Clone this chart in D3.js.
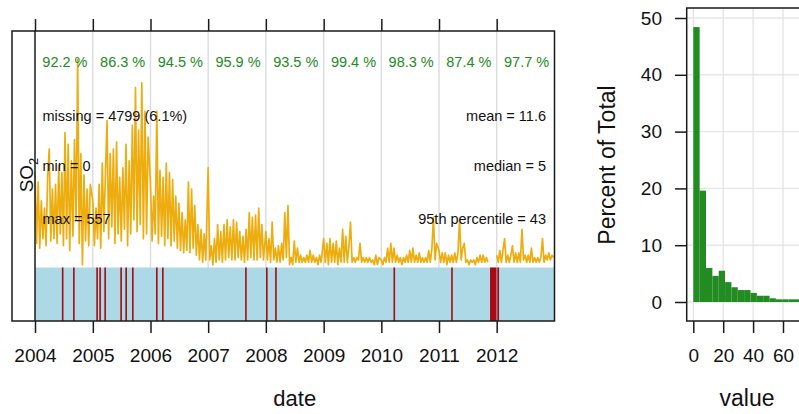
<!DOCTYPE html>
<html>
<head>
<meta charset="utf-8">
<script src="https://cdn.jsdelivr.net/npm/d3@7"></script>
<style>
  body { margin: 0; background: #fff; }
  svg { font-family: "Liberation Sans", Arial, sans-serif; display: block; }
</style>
</head>
<body>
<svg id="chart" width="799" height="414"></svg>
<script>
// daily SO2 means, sampled every 10 days from 1 Jan of each year
const so2_2004 = [40, 10, 36, 8, 28, 12, 25, 9, 38, 50, 11, 33, 12, 35, 10, 43, 14, 40, 9, 57, 12, 52, 7, 45, 13, 54, 20, 88, 10, 48, 1, 39, 11, 33, 9, 35];
const so2_2005 = [28, 9, 25, 12, 35, 8, 44, 15, 40, 62, 12, 48, 17, 50, 10, 53, 14, 38, 11, 42, 16, 52, 9, 45, 14, 60, 20, 76, 15, 58, 18, 78, 12, 66, 14, 55];
const so2_2006 = [35, 11, 30, 14, 66, 10, 41, 13, 38, 9, 44, 12, 40, 9, 37, 11, 30, 8, 27, 7, 23, 6, 20, 7, 36, 6, 33, 8, 26, 5, 18, 3, 16, 2, 14, 3];
const so2_2007 = [42, 3, 9, 1, 12, 2, 18, 3, 15, 2, 18, 3, 20, 4, 17, 3, 20, 3, 19, 4, 15, 3, 13, 2, 16, 3, 23, 4, 21, 3, 22, 3, 25, 4, 18, 3];
const so2_2008 = [15, 3, 12, 2, 19, 3, 8, 2, 9, 2, 10, 3, 23, 4, 26, 1, 4, 1, 11, 2, 8, 2, 5, 2, 4, 2, 5, 2, 7, 2, 5, 2, 4, 1, 5, 2];
const so2_2009 = [12, 2, 10, 1, 12, 2, 10, 2, 11, 1, 8, 2, 16, 2, 13, 2, 9, 19, 2, 4, 2, 4, 3, 10, 2, 4, 2, 4, 2, 4, 2, 3, 1, 5, 1, 4];
const so2_2010 = [3, 1, 4, 2, 8, 2, 10, 2, 8, 2, 5, 2, 4, 1, 4, 2, 5, 2, 7, 2, 8, 2, 5, 2, 6, 2, 4, 2, 4, 2, 7, 2, 8, 21, 3, 10];
const so2_2011 = [7, 2, 6, 2, 6, 1, 5, 2, 5, 2, 6, 2, 6, 20, 3, 8, 10, 2, 3, 1, 3, 2, 3, 1, 4, 2, 5, 2, 5, 2, 4, 2, null, null, null, null];
const so2_2012 = [5, 2, 7, 2, 7, 12, 2, 5, 2, 5, 9, 2, 6, 2, 6, 2, 16, 3, 5, 2, 5, 2, 8, 2, 4, 2, 4, 2, 4, 12, 2, 5, 3, 6, 3, 5, 4];

const years = [2004, 2005, 2006, 2007, 2008, 2009, 2010, 2011, 2012];
const capture = [92.2, 86.3, 94.5, 95.9, 93.5, 99.4, 98.3, 87.4, 97.7];

const missingStart = ["2004-06-19", "2004-08-29", "2005-01-23", "2005-02-11", "2005-03-15", "2005-06-24", "2005-07-26", "2005-09-06", "2006-02-05", "2006-03-15", "2007-08-23", "2008-01-02", "2008-02-29", "2010-03-19", "2011-03-19", "2011-11-20", "2012-01-05"];
const missingEnd = ["2004-06-29", "2004-09-08", "2005-02-02", "2005-02-21", "2005-03-25", "2005-07-04", "2005-08-05", "2005-09-16", "2006-02-15", "2006-03-25", "2007-09-02", "2008-01-12", "2008-03-10", "2010-03-29", "2011-03-29", "2011-12-31", "2012-01-16"];

const statsLeft = ["missing = 4799 (6.1%)", "min = 0", "max = 557"];
const statsRight = ["mean = 11.6", "median = 5", "95th percentile = 43"];

// histogram: percent of total per bin, bins 4.25 wide starting at 0
const binWidth = 4.25;
const histPct = [48.4, 19.6, 6.0, 4.6, 5.5, 3.5, 2.6, 2.1, 2.1, 1.6, 1.1, 1.1, 0.65, 0.47, 0.47, 0.47, 0.47, 0.4, 0.4];
const histYTicks = [0, 10, 20, 30, 40, 50];
const histXTicks = [0, 20, 40, 60];

const TREND = "#EEAD0E";
const DATA_BG = "#ADD8E6";
const MISS = "#A60A12";
const HIST = "#228B22";
const FRAME = "#1a1a1a";
const GRID = "#dcdcdc";

(() => {
  const svg = d3.select("#chart");
  svg.append("rect").attr("width", 799).attr("height", 414).attr("fill", "#fff");

  // ---- time series panel ----
  const frame = { left: 12, right: 554.5, top: 31, bottom: 321 };
  const bandTop = 267.5;

  const x = d3.scaleTime()
    .domain([new Date(2004, 0, 1), new Date(2013, 0, 1)])
    .range([35, 554.5]);

  const y = d3.scaleLinear()
    .domain([0, 100])
    .range([bandTop - 0.5, frame.top]);

  const series = [so2_2004, so2_2005, so2_2006, so2_2007, so2_2008, so2_2009, so2_2010, so2_2011, so2_2012];
  const daily = [];
  series.forEach((arr, k) => {
    arr.forEach((v, i) => daily.push({ date: new Date(years[k], 0, 1 + i * 10), v }));
  });

  const yearStarts = years.map(yr => new Date(yr, 0, 1));

  // grid
  svg.append("g")
    .selectAll("line")
    .data(yearStarts.slice(1))
    .join("line")
    .attr("x1", d => x(d)).attr("x2", d => x(d))
    .attr("y1", frame.top).attr("y2", frame.bottom)
    .attr("stroke", GRID)
    .attr("stroke-width", 1.4);

  // data availability band
  svg.append("rect")
    .attr("x", x.range()[0])
    .attr("y", bandTop)
    .attr("width", x.range()[1] - x.range()[0])
    .attr("height", frame.bottom - bandTop)
    .attr("fill", DATA_BG);

  const parse = d3.timeParse("%Y-%m-%d");
  svg.append("g")
    .selectAll("rect")
    .data(missingStart.map((s, i) => ({ s: parse(s), e: parse(missingEnd[i]) })))
    .join("rect")
    .attr("x", d => x(d.s))
    .attr("y", bandTop)
    .attr("width", d => Math.max(x(d.e) - x(d.s), 1.6))
    .attr("height", frame.bottom - bandTop)
    .attr("fill", MISS);

  // trend line
  const line = d3.line()
    .defined(d => d.v != null)
    .x(d => x(d.date))
    .y(d => y(d.v));

  svg.append("path")
    .datum(daily)
    .attr("d", line)
    .attr("fill", "none")
    .attr("stroke", TREND)
    .attr("stroke-width", 1.7)
    .attr("stroke-linejoin", "round");

  // capture rates per year
  svg.append("g")
    .selectAll("text")
    .data(years)
    .join("text")
    .attr("x", (d, i) => (x(new Date(d, 0, 1)) + x(new Date(d + 1, 0, 1))) / 2 + 1)
    .attr("y", 67)
    .attr("text-anchor", "middle")
    .attr("fill", HIST)
    .style("font-size", "14.5px")
    .text((d, i) => capture[i].toFixed(1) + " %");

  const statY = [120.5, 170.5, 224];
  svg.append("g")
    .selectAll("text")
    .data(statsLeft)
    .join("text")
    .attr("x", 42.5)
    .attr("y", (d, i) => statY[i])
    .style("font-size", "14.5px")
    .attr("fill", "#111")
    .text(d => d);

  svg.append("g")
    .selectAll("text")
    .data(statsRight)
    .join("text")
    .attr("x", 546)
    .attr("y", (d, i) => statY[i])
    .attr("text-anchor", "end")
    .style("font-size", "14.5px")
    .attr("fill", "#111")
    .text(d => d);

  // frame
  svg.append("rect")
    .attr("x", frame.left).attr("y", frame.top)
    .attr("width", frame.right - frame.left)
    .attr("height", frame.bottom - frame.top)
    .attr("fill", "none")
    .attr("stroke", FRAME)
    .attr("stroke-width", 1.5);

  svg.append("line")
    .attr("x1", 35).attr("x2", 35)
    .attr("y1", frame.top).attr("y2", frame.bottom)
    .attr("stroke", FRAME)
    .attr("stroke-width", 1.5);

  // variable label
  const lab = svg.append("text")
    .attr("transform", "translate(32.5,175) rotate(-90)")
    .attr("text-anchor", "middle")
    .style("font-size", "19px")
    .attr("fill", "#111");
  lab.append("tspan").text("SO");
  lab.append("tspan").attr("dy", 5).style("font-size", "13px").text("2");

  // axes
  const xAxis = svg.append("g")
    .attr("transform", `translate(0, ${frame.bottom})`)
    .call(d3.axisBottom(x).tickValues(yearStarts).tickFormat(d3.timeFormat("%Y"))
      .tickSize(12).tickPadding(16));
  xAxis.select(".domain").remove();
  xAxis.selectAll("line").attr("stroke", FRAME).attr("stroke-width", 1.5);
  xAxis.selectAll("text").style("font-size", "19px").attr("fill", "#111").attr("font-family", null);

  const xTop = svg.append("g")
    .attr("transform", `translate(0, ${frame.top})`)
    .call(d3.axisTop(x).tickValues(yearStarts).tickFormat("").tickSize(12));
  xTop.select(".domain").remove();
  xTop.selectAll("line").attr("stroke", FRAME).attr("stroke-width", 1.5);

  svg.append("text")
    .attr("x", (x.range()[0] + x.range()[1]) / 2)
    .attr("y", 406)
    .attr("text-anchor", "middle")
    .style("font-size", "22px")
    .attr("fill", "#111")
    .text("date");

  // ---- histogram panel ----
  const hFrame = { left: 686.7, top: 8, bottom: 321 };
  const xh = d3.scaleLinear().domain([0, 60]).range([693.3, 783]);
  const yh = d3.scaleLinear().domain([0, 50]).range([302, 18]);

  const hg = svg.append("g");
  hg.selectAll(".hgrid")
    .data(histYTicks)
    .join("line")
    .attr("x1", hFrame.left).attr("x2", 820)
    .attr("y1", d => yh(d)).attr("y2", d => yh(d))
    .attr("stroke", "#e6e6e6").attr("stroke-width", 1.4);
  hg.selectAll(".vgrid")
    .data(histXTicks)
    .join("line")
    .attr("x1", d => xh(d)).attr("x2", d => xh(d))
    .attr("y1", hFrame.top).attr("y2", hFrame.bottom)
    .attr("stroke", "#e6e6e6").attr("stroke-width", 1.4);

  hg.selectAll(".bar")
    .data(histPct)
    .join("rect")
    .attr("class", "bar")
    .attr("x", (d, i) => xh(i * binWidth))
    .attr("y", d => yh(d))
    .attr("width", xh(binWidth) - xh(0))
    .attr("height", d => yh(0) - yh(d))
    .attr("fill", HIST);

  hg.append("rect")
    .attr("x", hFrame.left).attr("y", hFrame.top)
    .attr("width", 830 - hFrame.left)
    .attr("height", hFrame.bottom - hFrame.top)
    .attr("fill", "none")
    .attr("stroke", FRAME)
    .attr("stroke-width", 1.5);

  const yAxisH = hg.append("g")
    .attr("transform", `translate(${hFrame.left}, 0)`)
    .call(d3.axisLeft(yh).tickValues(histYTicks).tickSize(11.7).tickPadding(13));
  yAxisH.select(".domain").remove();
  yAxisH.selectAll("line").attr("stroke", FRAME).attr("stroke-width", 1.5);
  yAxisH.selectAll("text").style("font-size", "19px").attr("fill", "#111").attr("font-family", null);

  const xAxisH = hg.append("g")
    .attr("transform", `translate(0, ${hFrame.bottom})`)
    .call(d3.axisBottom(xh).tickValues(histXTicks).tickSize(12).tickPadding(16));
  xAxisH.select(".domain").remove();
  xAxisH.selectAll("line").attr("stroke", FRAME).attr("stroke-width", 1.5);
  xAxisH.selectAll("text").style("font-size", "19px").attr("fill", "#111").attr("font-family", null);

  hg.append("text")
    .attr("transform", "translate(615,165) rotate(-90)")
    .attr("text-anchor", "middle")
    .style("font-size", "23px")
    .attr("fill", "#111")
    .text("Percent of Total");

  hg.append("text")
    .attr("x", 747)
    .attr("y", 406)
    .attr("text-anchor", "middle")
    .style("font-size", "23px")
    .attr("fill", "#111")
    .text("value");
})();
</script>
</body>
</html>
